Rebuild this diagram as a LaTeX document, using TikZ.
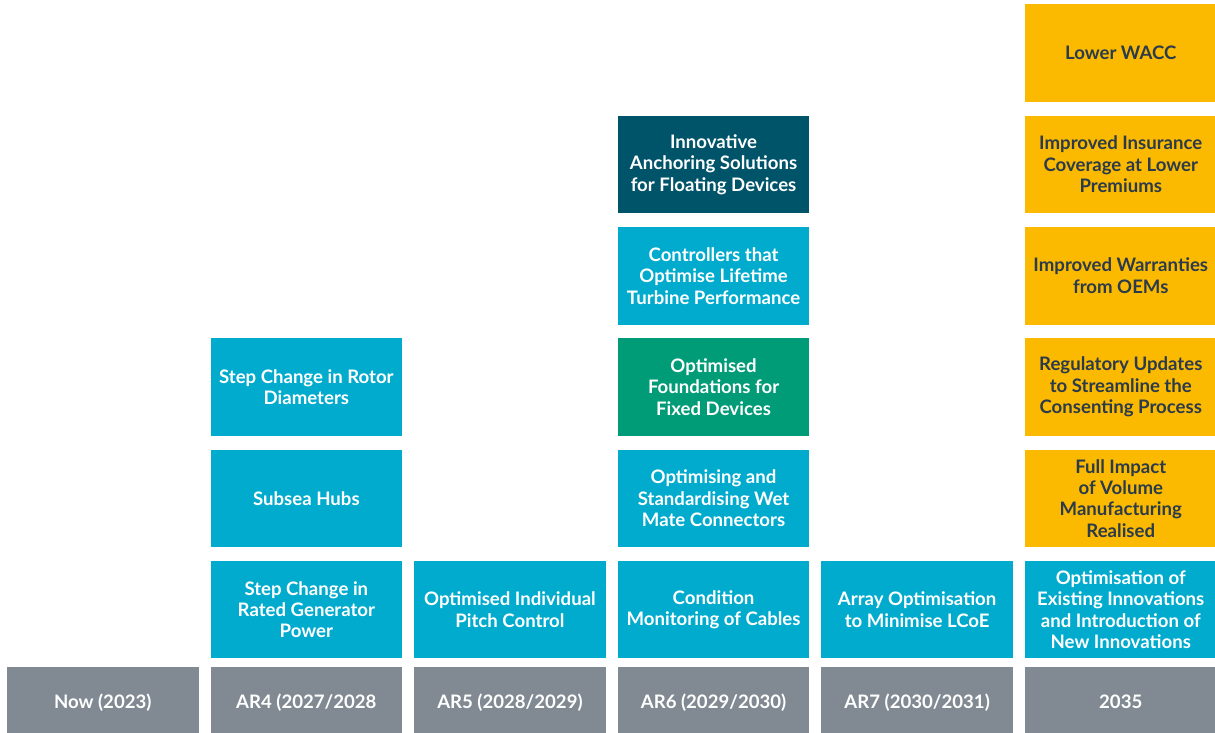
\documentclass[tikz,border=0pt]{standalone}
\usepackage{fontspec}
\setmainfont{Lato}
\definecolor{cyanbox}{HTML}{00ABCD}
\definecolor{tealbox}{HTML}{00546A}
\definecolor{greenbox}{HTML}{009B77}
\definecolor{yellowbox}{HTML}{FBBA00}
\definecolor{greybar}{HTML}{818A93}
\definecolor{darktext}{HTML}{2B3B4B}

\begin{document}
\begin{tikzpicture}[x=1pt, y=1pt,
    cell/.style={minimum width=191.5pt, minimum height=97.5pt, inner sep=0pt,
        align=center, text=white, font=\bfseries\fontsize{18.6}{21.4}\selectfont},
    yearbar/.style={cell, fill=greybar, minimum height=66pt, text height=17pt, text depth=0pt},
    yellowcell/.style={cell, fill=yellowbox, text=darktext}]
    \def\colw{191.5}
    \def\rowh{97.5}
    \def\pitch{203.6}
    \def\rowstep{111.3}
    \useasboundingbox (0, 0) rectangle (1215, 733);
    % #1 name, #2 column, #3 row, #4 style, #5 text
    \newcommand{\cell}[5]{
        \node[#4] (#1) at ({7+\colw/2+#2*\pitch}, {74.5+\rowh/2+(#3-1)*\rowstep}) {#5};
    }
    % year bars
    \node[yearbar] (now) at ({7+\colw/2+0*\pitch}, 33) {Now (2023)};
    \node[yearbar] (ar4) at ({7+\colw/2+1*\pitch}, 33) {AR4 (2027/2028};
    \node[yearbar] (ar5) at ({7+\colw/2+2*\pitch}, 33) {AR5 (2028/2029)};
    \node[yearbar] (ar6) at ({7+\colw/2+3*\pitch}, 33) {AR6 (2029/2030)};
    \node[yearbar] (ar7) at ({7+\colw/2+4*\pitch}, 33) {AR7 (2030/2031)};
    \node[yearbar] (y2035) at ({7+\colw/2+5*\pitch}, 33) {2035};

    % AR4
    \cell{generator}{1}{1}{cell, fill=cyanbox}{Step Change in\\Rated Generator\\Power}
    \cell{hubs}{1}{2}{cell, fill=cyanbox}{Subsea Hubs}
    \cell{rotor}{1}{3}{cell, fill=cyanbox}{Step Change in Rotor\\Diameters}
    % AR5
    \cell{pitch}{2}{1}{cell, fill=cyanbox}{Optimised Individual\\Pitch Control}
    % AR6
    \cell{cables}{3}{1}{cell, fill=cyanbox}{Condition\\Monitoring of Cables}
    \cell{wetmate}{3}{2}{cell, fill=cyanbox}{Optimising and\\Standardising Wet\\Mate Connectors}
    \cell{foundations}{3}{3}{cell, fill=greenbox}{Optimised\\Foundations for\\Fixed Devices}
    \cell{controllers}{3}{4}{cell, fill=cyanbox}{Controllers that\\Optimise Lifetime\\Turbine Performance}
    \cell{anchoring}{3}{5}{cell, fill=tealbox}{Innovative\\Anchoring Solutions\\for Floating Devices}
    % AR7
    \cell{array}{4}{1}{cell, fill=cyanbox}{Array Optimisation\\to Minimise LCoE}
    % 2035
    \cell{innovations}{5}{1}{cell, fill=cyanbox}{Optimisation of\\Existing Innovations\\and Introduction of\\New Innovations}
    \cell{volume}{5}{2}{yellowcell}{Full Impact\\of Volume\\Manufacturing\\Realised}
    \cell{regulatory}{5}{3}{yellowcell}{Regulatory Updates\\to Streamline the\\Consenting Process}
    \cell{warranties}{5}{4}{yellowcell}{Improved Warranties\\from OEMs}
    \cell{insurance}{5}{5}{yellowcell}{Improved Insurance\\Coverage at Lower\\Premiums}
    \cell{wacc}{5}{6}{yellowcell}{Lower WACC}
\end{tikzpicture}
\end{document}
